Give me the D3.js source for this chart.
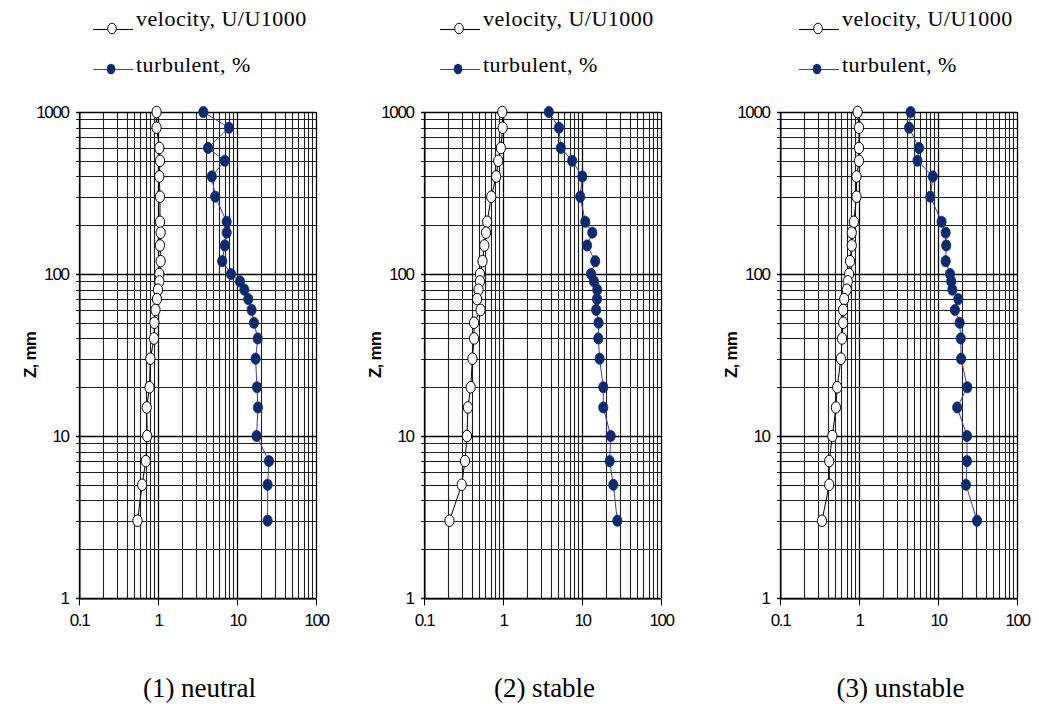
<!DOCTYPE html>
<html>
<head>
<meta charset="utf-8">
<script src="https://cdn.jsdelivr.net/npm/d3@7"></script>
<style>
  html, body { margin: 0; padding: 0; background: #fff; }
  svg { display: block; }
</style>
</head>
<body>
<svg id="chart" width="1039" height="704"></svg>
<script>
// ---- data ----
const zLevels = [1000, 800, 600, 500, 400, 300, 210, 180, 150, 120, 100, 90, 80, 70, 60, 50, 40, 30, 20, 15, 10, 7, 5, 3];

const velNeutral  = [0.96, 0.96, 1.04, 1.06, 1.04, 1.06, 1.06, 1.08, 1.06, 1.08, 1.04, 1.04, 1.0, 0.97, 0.93, 0.90, 0.89, 0.80, 0.78, 0.72, 0.73, 0.70, 0.63, 0.55];
const turbNeutral = [3.75, 7.9, 4.3, 7.0, 4.8, 5.3, 7.4, 7.4, 7.0, 6.5, 8.4, 10.9, 12.4, 13.9, 15.3, 16.4, 18.3, 17.2, 17.9, 18.4, 17.7, 25.4, 24.4, 24.4];

const velStable  = [0.98, 0.99, 0.94, 0.87, 0.82, 0.71, 0.63, 0.61, 0.58, 0.55, 0.51, 0.51, 0.49, 0.47, 0.52, 0.43, 0.43, 0.41, 0.39, 0.36, 0.35, 0.33, 0.30, 0.21];
const turbStable = [3.8, 5.1, 5.4, 7.5, 10.1, 9.5, 11.0, 13.5, 11.6, 14.7, 13.0, 14.2, 15.6, 15.5, 15.1, 16.2, 16.1, 16.7, 18.6, 18.6, 23.1, 22.4, 24.9, 28.0];

const velUnstable  = [0.96, 1.0, 1.0, 1.0, 0.93, 0.93, 0.86, 0.81, 0.81, 0.77, 0.75, 0.72, 0.70, 0.65, 0.63, 0.63, 0.61, 0.59, 0.53, 0.51, 0.46, 0.42, 0.42, 0.34];
const turbUnstable = [4.5, 4.3, 5.75, 5.5, 8.6, 8.0, 11.1, 12.5, 12.7, 12.5, 14.2, 14.7, 15.2, 18.1, 16.4, 18.8, 19.4, 19.6, 23.5, 17.5, 23.3, 23.3, 22.6, 31.2];

const xTickLabels = ["0.1", "1", "10", "100"];
const yTickLabels = ["1", "10", "100", "1000"];
const legendLabels = ["velocity, U/U1000", "turbulent, %"];
const captions = ["(1) neutral", "(2) stable", "(3) unstable"];
const yAxisTitle = "Z, mm";

// ---- layout ----
const panels = [
  { x0: 79,  vel: velNeutral,  turb: turbNeutral,  legendDx: 57 },
  { x0: 424, vel: velStable,   turb: turbStable,   legendDx: 59 },
  { x0: 780, vel: velUnstable, turb: turbUnstable, legendDx: 62 }
];
const plotW = 237, yTop = 112, yBot = 598;
const navy = "#0b2a6e", blueLine = "#3c3fae";

const svg = d3.select("#chart");

panels.forEach((p, i) => {
  const g = svg.append("g");
  const x = d3.scaleLog().domain([0.1, 100]).range([p.x0, p.x0 + plotW]);
  const y = d3.scaleLog().domain([1, 1000]).range([yBot, yTop]);

  const xGrid = [];
  [0.1, 1, 10].forEach(d => { for (let k = 1; k < 10; k++) xGrid.push(d * k); });
  xGrid.push(100);
  const yGrid = [];
  [1, 10, 100].forEach(d => { for (let k = 1; k < 10; k++) yGrid.push(d * k); });
  yGrid.push(1000);
  const isMajor = d => Math.abs(Math.log10(d) - Math.round(Math.log10(d))) < 1e-9;

  g.append("g").selectAll("line").data(xGrid).join("line")
    .attr("x1", d => Math.round(x(d)) + 0.5).attr("x2", d => Math.round(x(d)) + 0.5)
    .attr("y1", yTop).attr("y2", yBot)
    .attr("stroke", d => isMajor(d) ? "#000" : "#1e1e1e")
    .attr("stroke-width", d => isMajor(d) ? 1.3 : 1.1);
  g.append("g").selectAll("line").data(yGrid).join("line")
    .attr("y1", d => Math.round(y(d)) + 0.5).attr("y2", d => Math.round(y(d)) + 0.5)
    .attr("x1", p.x0 - 3).attr("x2", p.x0 + plotW)
    .attr("stroke", d => isMajor(d) ? "#000" : "#1e1e1e")
    .attr("stroke-width", d => isMajor(d) ? 1.3 : 1.1);

  // x axis
  const xAxis = d3.axisBottom(x).tickValues([0.1, 1, 10, 100])
    .tickFormat((d, j) => xTickLabels[j]).tickSize(7).tickSizeOuter(0);
  const gx = g.append("g").attr("transform", `translate(0,${yBot + 0.5})`).call(xAxis);
  gx.select(".domain").attr("stroke", "#000");
  gx.selectAll(".tick line").attr("stroke", "#000");
  gx.selectAll(".tick text").attr("font-family", "Liberation Sans, Arial, sans-serif")
    .attr("font-size", 17).attr("letter-spacing", "-1.4").attr("fill", "#000").attr("dy", "1.05em");

  // y axis
  const yAxis = d3.axisLeft(y).tickValues([1, 10, 100, 1000])
    .tickFormat((d, j) => yTickLabels[j]).tickSize(0).tickPadding(11).tickSizeOuter(0);
  const gy = g.append("g").attr("transform", `translate(${p.x0 + 0.5},0)`).call(yAxis);
  gy.select(".domain").attr("stroke", "#000");
  gy.selectAll(".tick text").attr("font-family", "Liberation Sans, Arial, sans-serif")
    .attr("font-size", 17).attr("letter-spacing", "-1.4").attr("fill", "#000");

  // y title
  g.append("text")
    .attr("transform", `translate(${p.x0 - 49},${(yTop + yBot) / 2}) rotate(-90)`)
    .attr("text-anchor", "middle").attr("dy", "0.35em")
    .attr("font-family", "Liberation Sans, Arial, sans-serif").attr("font-weight", "bold")
    .attr("font-size", 17).attr("letter-spacing", "-0.8")
    .text(yAxisTitle);

  // series
  const velData = zLevels.map((z, j) => ({ z, v: p.vel[j] }));
  const turbData = zLevels.map((z, j) => ({ z, v: p.turb[j] }));
  const line = d3.line().x(d => x(d.v)).y(d => y(d.z));

  g.append("path").datum(velData).attr("d", line)
    .attr("fill", "none").attr("stroke", "#000").attr("stroke-width", 1);
  g.append("path").datum(turbData).attr("d", line)
    .attr("fill", "none").attr("stroke", blueLine).attr("stroke-width", 1);

  g.append("g").selectAll("ellipse").data(velData).join("ellipse")
    .attr("cx", d => x(d.v)).attr("cy", d => y(d.z))
    .attr("rx", 4.6).attr("ry", 5.8)
    .attr("fill", "#fff").attr("stroke", "#000").attr("stroke-width", 1);
  g.append("g").selectAll("ellipse").data(turbData).join("ellipse")
    .attr("cx", d => x(d.v)).attr("cy", d => y(d.z))
    .attr("rx", 4.6).attr("ry", 5.6)
    .attr("fill", navy).attr("stroke", navy).attr("stroke-width", 0.8);

  // legend
  const lx = p.x0 + p.legendDx;
  const lg = g.append("g");
  lg.append("line").attr("x1", lx - 43).attr("x2", lx - 3).attr("y1", 29.5).attr("y2", 29.5)
    .attr("stroke", "#000").attr("stroke-width", 1);
  lg.append("ellipse").attr("cx", lx - 24).attr("cy", 28.5).attr("rx", 4.3).attr("ry", 5.3)
    .attr("fill", "#fff").attr("stroke", "#000");
  lg.append("text").attr("x", lx).attr("y", 26)
    .attr("font-family", "Liberation Serif, Times New Roman, serif").attr("font-size", 22)
    .attr("letter-spacing", "0.5")
    .text(legendLabels[0]);

  lg.append("line").attr("x1", lx - 43).attr("x2", lx - 3).attr("y1", 69.5).attr("y2", 69.5)
    .attr("stroke", blueLine).attr("stroke-width", 1);
  lg.append("ellipse").attr("cx", lx - 25).attr("cy", 69).attr("rx", 4.3).attr("ry", 5.3)
    .attr("fill", navy);
  lg.append("text").attr("x", lx).attr("y", 72)
    .attr("font-family", "Liberation Serif, Times New Roman, serif").attr("font-size", 22)
    .attr("letter-spacing", "0.5")
    .text(legendLabels[1]);

  // caption
  g.append("text").attr("x", p.x0 + plotW / 2 + 2).attr("y", 697)
    .attr("text-anchor", "middle")
    .attr("font-family", "Liberation Serif, Times New Roman, serif").attr("font-size", 27)
    .text(captions[i]);
});
</script>
</body>
</html>
